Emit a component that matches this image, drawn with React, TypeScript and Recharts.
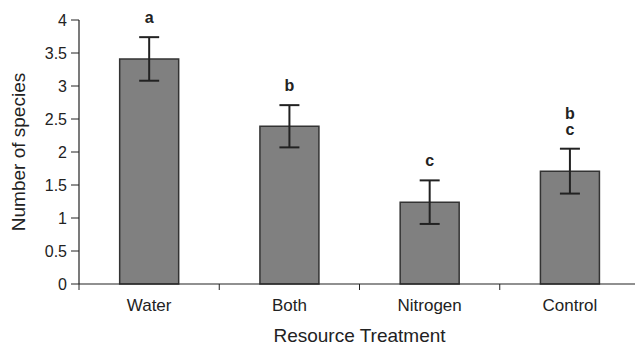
import { BarChart, Bar, XAxis, YAxis, ErrorBar, LabelList } from 'recharts';

const treatments = ['Water', 'Both', 'Nitrogen', 'Control'];
const speciesMeans = [3.41, 2.39, 1.24, 1.71];
const speciesErrors = [0.33, 0.32, 0.33, 0.34];
const groupLetters = [['a'], ['b'], ['c'], ['b', 'c']];
const yTicks = [0, 0.5, 1, 1.5, 2, 2.5, 3, 3.5, 4];

const data = treatments.map((name, i) => ({
  name,
  mean: speciesMeans[i],
  err: speciesErrors[i],
}));

const FONT = '"Liberation Sans", Arial, sans-serif';
const INK = '#222';

const LetterLabel = (props: any) => {
  const { x, y, width, height, index, value } = props;
  const pxPerUnit = height / value;
  const errTop = y - speciesErrors[index] * pxPerUnit;
  const letters = groupLetters[index];
  const cx = x + width / 2;
  return (
    <g>
      {letters.map((l, k) => (
        <text
          key={k}
          x={cx}
          y={errTop - 14 - (letters.length - 1 - k) * 16}
          textAnchor="middle"
          fontFamily={FONT}
          fontSize={16}
          fontWeight="bold"
          fill={INK}
        >
          {l}
        </text>
      ))}
    </g>
  );
};

// label in the middle of the band, small tick on the band's left edge
const CategoryTick = (props: any) => {
  const { x, y, payload } = props;
  const half = payload?.offset ?? 0;
  const axisY = y - 15;
  return (
    <g>
      {half > 0 && (
        <line x1={x - half} x2={x - half} y1={axisY} y2={axisY + 6} stroke={INK} />
      )}
      <text
        x={x}
        y={y}
        dy="0.71em"
        textAnchor="middle"
        fontFamily={FONT}
        fontSize={17}
        fill={INK}
      >
        {payload.value}
      </text>
    </g>
  );
};

export default function App() {
  return (
    <div
      style={{
        position: 'absolute',
        left: 0,
        top: 0,
        width: 635,
        height: 345,
        overflow: 'hidden',
        background: '#fff',
      }}
    >
      <BarChart
        width={640}
        height={345}
        data={data}
        margin={{ top: 20, right: 0, left: 0, bottom: 0 }}
        barCategoryGap="29%"
      >
        <XAxis
          dataKey="name"
          height={61}
          tickLine={false}
          tickSize={0}
          tickMargin={15}
          axisLine={{ stroke: INK, strokeWidth: 1.2 }}
          tick={<CategoryTick />}
          label={{
            value: 'Resource Treatment',
            position: 'insideBottom',
            offset: 3,
            style: { fontSize: 19, fill: INK, fontFamily: FONT },
          }}
        />
        <YAxis
          width={79}
          domain={[0, 4]}
          ticks={yTicks}
          interval={0}
          tickSize={8}
          tickMargin={4}
          tickLine={{ stroke: INK }}
          axisLine={{ stroke: INK, strokeWidth: 1.2 }}
          tick={{ fontSize: 16, fill: INK, fontFamily: FONT }}
          label={{
            value: 'Number of species',
            angle: -90,
            position: 'insideLeft',
            offset: 18,
            style: { fontSize: 19, fill: INK, fontFamily: FONT, textAnchor: 'middle' },
          }}
        />
        <Bar
          dataKey="mean"
          fill="#808080"
          stroke="#333"
          strokeWidth={1.5}
          isAnimationActive={false}
        >
          <ErrorBar dataKey="err" width={10} stroke={INK} strokeWidth={2} />
          <LabelList dataKey="mean" content={LetterLabel} />
        </Bar>
      </BarChart>
    </div>
  );
}
